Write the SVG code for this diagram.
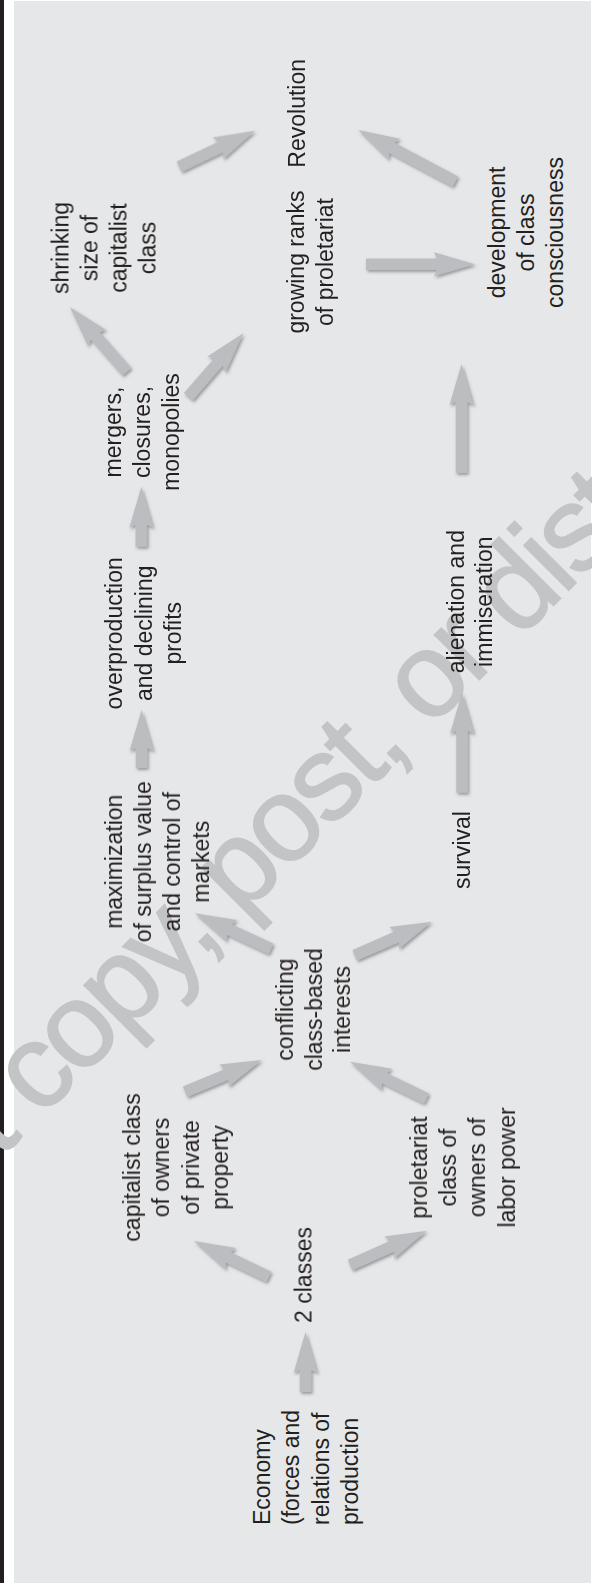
<svg xmlns="http://www.w3.org/2000/svg" width="592" height="1583" viewBox="0 0 592 1583">
  <defs>
    <style>
      .lbl { font-family: "Liberation Sans", Arial, sans-serif; font-size: 23px; fill: #231f20; }
      .arr { fill: #bcbdc0; }
      .wm { font-family: "Liberation Sans", Arial, sans-serif; font-size: 120px; letter-spacing: -4.5px; fill: #c3c4c6; stroke: #c3c4c6; stroke-width: 1.5; }
    </style>
    <filter id="shadow" x="-20%" y="-20%" width="140%" height="140%">
      <feDropShadow dx="1.5" dy="2" stdDeviation="1.6" flood-color="#58595b" flood-opacity="0.55"/>
    </filter>
  </defs>

  <!-- page -->
  <rect x="0" y="0" width="592" height="1583" fill="#ffffff"/>
  <rect x="0" y="0" width="4" height="1583" fill="#231f20"/>
  <rect x="14" y="1" width="577" height="1582" fill="#e6e7e8"/>

  <!-- watermark -->
  <g id="watermark" transform="translate(40,1119) rotate(-45)">
    <text class="wm"><tspan x="-355" y="0">Do not </tspan><tspan x="0" y="0">copy, post, or distribute</tspan></text>
  </g>

  <!-- connectors -->
  <g id="connectors" filter="url(#shadow)">
    <path class="arr" transform="translate(305.5,1332) rotate(-90)" d="M0,0 L-41,-12 L-38,-5.75 L-60,-5.75 L-60,5.75 L-38,5.75 L-41,12 Z"/>
    <path class="arr" transform="translate(194,1241) rotate(-154.4)" d="M0,0 L-41,-12 L-38,-5.75 L-83,-5.75 L-83,5.75 L-38,5.75 L-41,12 Z"/>
    <path class="arr" transform="translate(426.7,1230.7) rotate(-24.1)" d="M0,0 L-41,-12 L-38,-5.75 L-84,-5.75 L-84,5.75 L-38,5.75 L-41,12 Z"/>
    <path class="arr" transform="translate(261.7,1060) rotate(-22.5)" d="M0,0 L-41,-12 L-38,-5.75 L-83,-5.75 L-83,5.75 L-38,5.75 L-41,12 Z"/>
    <path class="arr" transform="translate(350,1061.7) rotate(-154.3)" d="M0,0 L-41,-12 L-38,-5.75 L-85,-5.75 L-85,5.75 L-38,5.75 L-41,12 Z"/>
    <path class="arr" transform="translate(195,913.3) rotate(-154.8)" d="M0,0 L-41,-12 L-38,-5.75 L-84,-5.75 L-84,5.75 L-38,5.75 L-41,12 Z"/>
    <path class="arr" transform="translate(431.7,921.7) rotate(-23.5)" d="M0,0 L-41,-12 L-38,-5.75 L-84,-5.75 L-84,5.75 L-38,5.75 L-41,12 Z"/>
    <path class="arr" transform="translate(141.5,710) rotate(-90)" d="M0,0 L-41,-12 L-38,-5.75 L-58,-5.75 L-58,5.75 L-38,5.75 L-41,12 Z"/>
    <path class="arr" transform="translate(141.3,486.7) rotate(-90)" d="M0,0 L-41,-12 L-38,-5.75 L-60,-5.75 L-60,5.75 L-38,5.75 L-41,12 Z"/>
    <path class="arr" transform="translate(70,307.3) rotate(-131.4)" d="M0,0 L-41,-12 L-38,-5.75 L-86,-5.75 L-86,5.75 L-38,5.75 L-41,12 Z"/>
    <path class="arr" transform="translate(243.3,333.3) rotate(-49.1)" d="M0,0 L-41,-12 L-38,-5.75 L-84,-5.75 L-84,5.75 L-38,5.75 L-41,12 Z"/>
    <path class="arr" transform="translate(255,130.7) rotate(-25.4)" d="M0,0 L-41,-12 L-38,-5.75 L-84,-5.75 L-84,5.75 L-38,5.75 L-41,12 Z"/>
    <path class="arr" transform="translate(475,264.3) rotate(0)" d="M0,0 L-41,-12 L-38,-5.75 L-109,-5.75 L-109,5.75 L-38,5.75 L-41,12 Z"/>
    <path class="arr" transform="translate(358.3,130) rotate(-152)" d="M0,0 L-41,-12 L-38,-5.75 L-110,-5.75 L-110,5.75 L-38,5.75 L-41,12 Z"/>
    <path class="arr" transform="translate(461.5,364) rotate(-90)" d="M0,0 L-41,-12 L-38,-5.75 L-109,-5.75 L-109,5.75 L-38,5.75 L-41,12 Z"/>
    <path class="arr" transform="translate(462,692.7) rotate(-90)" d="M0,0 L-41,-12 L-38,-5.75 L-100,-5.75 L-100,5.75 L-38,5.75 L-41,12 Z"/>
  </g>

  <!-- nodes -->
  <g id="economy">
    <text class="lbl" transform="translate(269.5,1525) rotate(-90)"><tspan x="0" y="0">Economy</tspan><tspan x="0" dy="29.5">(forces and</tspan><tspan x="0" dy="29.5">relations of</tspan><tspan x="0" dy="29.5">production</tspan></text>
  </g>
  <g id="two-classes">
    <text class="lbl" text-anchor="middle" transform="translate(311.5,1275) rotate(-90)"><tspan x="0" y="0">2 classes</tspan></text>
  </g>
  <g id="capitalist-class">
    <text class="lbl" text-anchor="middle" transform="translate(140,1167.5) rotate(-90)"><tspan x="0" y="0">capitalist class</tspan><tspan x="0" dy="29.3">of owners</tspan><tspan x="0" dy="29.3">of private</tspan><tspan x="0" dy="29.3">property</tspan></text>
  </g>
  <g id="proletariat-class">
    <text class="lbl" text-anchor="middle" transform="translate(427,1167.5) rotate(-90)"><tspan x="0" y="0">proletariat</tspan><tspan x="0" dy="29.2">class of</tspan><tspan x="0" dy="29.2">owners of</tspan><tspan x="0" dy="29.2">labor power</tspan></text>
  </g>
  <g id="conflicting">
    <text class="lbl" text-anchor="middle" transform="translate(293,1009.5) rotate(-90)"><tspan x="0" y="0">conflicting</tspan><tspan x="0" dy="28.5">class-based</tspan><tspan x="0" dy="28.5">interests</tspan></text>
  </g>
  <g id="maximization">
    <text class="lbl" text-anchor="middle" transform="translate(122,861.7) rotate(-90)"><tspan x="0" y="0">maximization</tspan><tspan x="0" dy="29">of surplus value</tspan><tspan x="0" dy="29">and control of</tspan><tspan x="0" dy="29">markets</tspan></text>
  </g>
  <g id="survival">
    <text class="lbl" text-anchor="middle" transform="translate(470,850) rotate(-90)"><tspan x="0" y="0">survival</tspan></text>
  </g>
  <g id="overproduction">
    <text class="lbl" text-anchor="middle" transform="translate(122,633.3) rotate(-90)"><tspan x="0" y="0">overproduction</tspan><tspan x="0" dy="29.5">and declining</tspan><tspan x="0" dy="29.5">profits</tspan></text>
  </g>
  <g id="alienation">
    <text class="lbl" text-anchor="middle" transform="translate(463.5,601.7) rotate(-90)"><tspan x="0" y="0">alienation and</tspan><tspan x="0" dy="28.5">immiseration</tspan></text>
  </g>
  <g id="mergers">
    <text class="lbl" text-anchor="middle" transform="translate(121,432) rotate(-90)"><tspan x="0" y="0">mergers,</tspan><tspan x="0" dy="29">closures,</tspan><tspan x="0" dy="29">monopolies</tspan></text>
  </g>
  <g id="shrinking">
    <text class="lbl" text-anchor="middle" transform="translate(68.5,248) rotate(-90)"><tspan x="0" y="0">shrinking</tspan><tspan x="0" dy="29">size of</tspan><tspan x="0" dy="29">capitalist</tspan><tspan x="0" dy="29">class</tspan></text>
  </g>
  <g id="growing-ranks">
    <text class="lbl" text-anchor="middle" transform="translate(304,262) rotate(-90)"><tspan x="0" y="0">growing ranks</tspan><tspan x="0" dy="29">of proletariat</tspan></text>
  </g>
  <g id="revolution">
    <text class="lbl" text-anchor="middle" transform="translate(305,113.3) rotate(-90)"><tspan x="0" y="0">Revolution</tspan></text>
  </g>
  <g id="development">
    <text class="lbl" text-anchor="middle" transform="translate(505,232.5) rotate(-90)"><tspan x="0" y="0">development</tspan><tspan x="0" dy="29">of class</tspan><tspan x="0" dy="29">consciousness</tspan></text>
  </g>
</svg>
